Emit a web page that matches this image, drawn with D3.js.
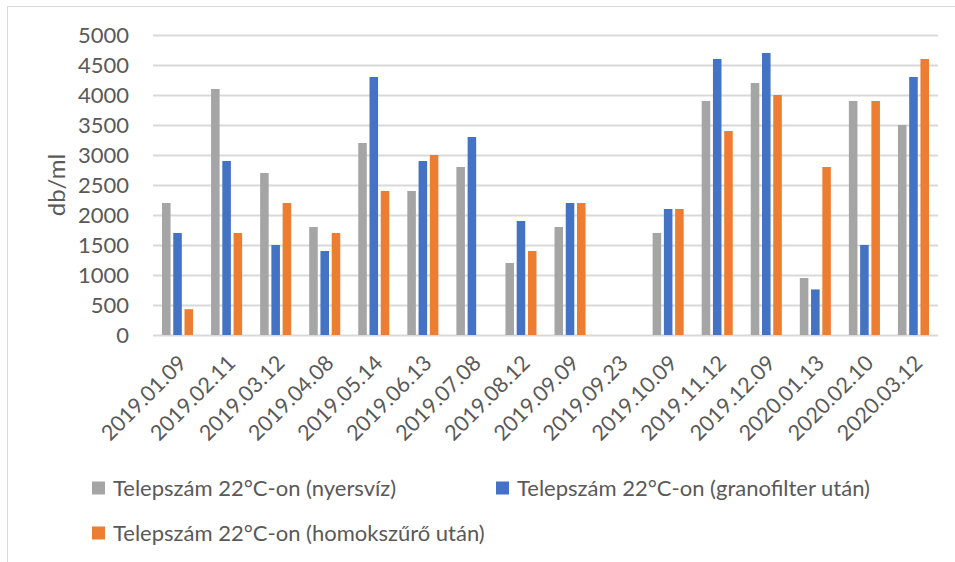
<!DOCTYPE html>
<html><head><meta charset="utf-8">
<script src="https://cdn.jsdelivr.net/npm/d3@7/dist/d3.min.js"></script>
<style>
html,body{margin:0;padding:0;background:#fff;}
svg{display:block;font-family:Lato,'Open Sans',sans-serif;}
</style></head>
<body>
<svg id="chart" width="955" height="562"></svg>
<script>
const categories = ["2019.01.09","2019.02.11","2019.03.12","2019.04.08","2019.05.14","2019.06.13","2019.07.08","2019.08.12","2019.09.09","2019.09.23","2019.10.09","2019.11.12","2019.12.09","2020.01.13","2020.02.10","2020.03.12"];
const seriesNames = ["Telepszám 22°C-on (nyersvíz)","Telepszám 22°C-on (granofilter után)","Telepszám 22°C-on (homokszűrő után)"];
const seriesColors = ["#a5a5a5","#4472c4","#ed7d31"];
const nyersviz    = [2200,4100,2700,1800,3200,2400,2800,1200,1800,null,1700,3900,4200,950,3900,3500];
const granofilter = [1700,2900,1500,1400,4300,2900,3300,1900,2200,null,2100,4600,4700,760,1500,4300];
const homokszuro  = [430,1700,2200,1700,2400,3000,null,1400,2200,null,2100,3400,4000,2800,3900,4600];
const yTicks = [0,500,1000,1500,2000,2500,3000,3500,4000,4500,5000];
const yLabel = "db/ml";

const series = [nyersviz, granofilter, homokszuro];
const svg = d3.select("#chart");
const textColor = "#595959";

// outer chart border
svg.append("rect").attr("x",7.5).attr("y",6.5).attr("width",1000).attr("height",1000)
  .attr("fill","none").attr("stroke","#d9d9d9").attr("stroke-width",1);

const pLeft = 153, pRight = 938, pTop = 35, pBottom = 335;
const x0 = d3.scaleBand().domain(categories).range([pLeft,pRight]).paddingInner(0.367).paddingOuter(0.1835);
const x1 = d3.scaleBand().domain([0,1,2]).range([0,x0.bandwidth()]).paddingInner(0.24).paddingOuter(0);
const y = d3.scaleLinear().domain([0,5000]).range([pBottom,pTop]);

// gridlines
const yAxis = d3.axisLeft(y).tickValues(yTicks).tickFormat(d3.format("d")).tickSize(-(pRight-pLeft)).tickPadding(24);
const gy = svg.append("g").attr("transform",`translate(${pLeft},0)`).call(yAxis);
gy.select(".domain").remove();
gy.selectAll(".tick line").attr("stroke","#d9d9d9").attr("stroke-width",2);
gy.selectAll(".tick text").attr("fill",textColor).style("font-size","22px").style("font-family","Lato,sans-serif");

// bars
const groups = svg.append("g").selectAll("g").data(categories).join("g")
  .attr("transform",d=>`translate(${x0(d)},0)`);
groups.selectAll("rect").data((d,i)=>series.map((s,k)=>({k,v:s[i]})).filter(o=>o.v!=null)).join("rect")
  .attr("x",o=>x1(o.k)).attr("width",x1.bandwidth())
  .attr("y",o=>y(o.v)).attr("height",o=>y(0)-y(o.v))
  .attr("fill",o=>seriesColors[o.k]);

// x axis labels
const xAxis = d3.axisBottom(x0).tickSize(0).tickPadding(0);
const gx = svg.append("g").attr("transform",`translate(0,${pBottom})`).call(xAxis);
gx.select(".domain").remove();
gx.selectAll(".tick text")
  .attr("fill",textColor).style("font-size","21.5px").style("font-family","Lato,sans-serif")
  .attr("text-anchor","end").attr("dy","0.35em")
  .attr("transform","translate(5,24) rotate(-45)").attr("y",0).attr("x",0);

// y label
svg.append("text").attr("transform",`translate(65,${(pTop+pBottom)/2}) rotate(-90)`)
  .attr("text-anchor","middle").attr("fill",textColor).style("font-size","24px").text(yLabel);

// legend
const legendPos = [[92,488],[496,488],[92,533]];
const lg = svg.append("g").selectAll("g").data(seriesNames).join("g")
  .attr("transform",(d,i)=>`translate(${legendPos[i][0]},${legendPos[i][1]})`);
lg.append("rect").attr("x",0).attr("y",-6.5).attr("width",13).attr("height",13).attr("fill",(d,i)=>seriesColors[i]);
lg.append("text").attr("x",21).attr("y",0).attr("dy","0.36em").attr("fill",textColor).style("font-size","22px").text(d=>d);
</script>
</body></html>
